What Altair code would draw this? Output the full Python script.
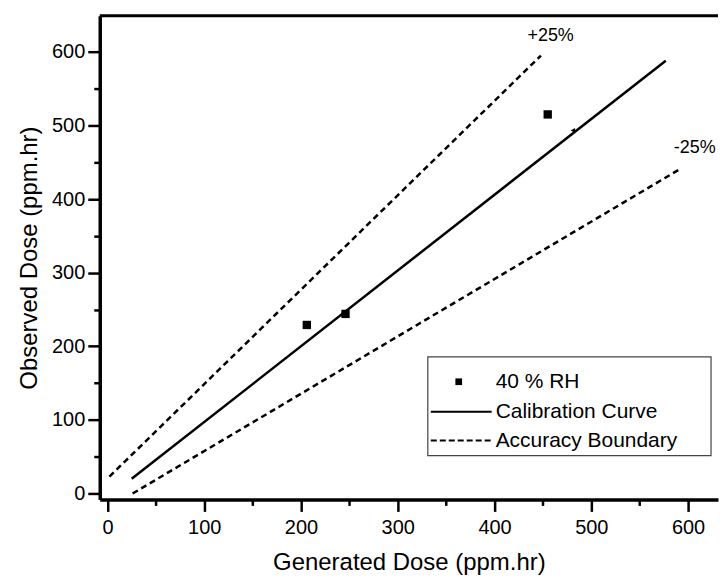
import altair as alt
import pandas as pd

# ---- data ----
cal_x = [25, 577]
cal_y = [20, 588]
upper_x = [2, 448]
upper_y = [23, 595]
lower_x = [26, 592]
lower_y = [0, 441]
pts_x = [206, 246, 455]
pts_y = [229, 244, 515]
hidden_x = [481]
hidden_y = [493]
ann_text = ["+25%", "-25%"]
ann_x = [458, 607]
ann_y = [622, 470]
tick_values = list(range(0, 651, 50))
legend_labels = ["40 % RH", "Calibration Curve", "Accuracy Boundary"]

FONT = "Liberation Sans"
W, H = 620, 485

xs = alt.Scale(domain=[-8, 631], nice=False, zero=False)
ys = alt.Scale(domain=[-8, 649], nice=False, zero=False)

tick_size = {"condition": {"test": "datum.value % 100 !== 0", "value": 6}, "value": 12}
lbl_expr = "datum.value % 100 === 0 ? datum.label : ''"

x_axis = alt.Axis(values=[v for v in tick_values if v <= 600], title="Generated Dose (ppm.hr)",
                  labelExpr=lbl_expr, tickSize=tick_size, grid=False,
                  labelPadding=6, titlePadding=13)
y_axis = alt.Axis(values=tick_values, title="Observed Dose (ppm.hr)",
                  labelExpr=lbl_expr, tickSize=tick_size, grid=False,
                  labelPadding=3, titlePadding=10)

cal_df = pd.DataFrame({"x": cal_x, "y": cal_y})
bound_df = pd.concat([
    pd.DataFrame({"x": upper_x, "y": upper_y, "b": "upper"}),
    pd.DataFrame({"x": lower_x, "y": lower_y, "b": "lower"}),
])
pts_df = pd.DataFrame({"x": pts_x, "y": pts_y})
hid_df = pd.DataFrame({"x": hidden_x, "y": hidden_y})
ann_df = pd.DataFrame({"x": ann_x, "y": ann_y, "t": ann_text})

cal = alt.Chart(cal_df).mark_line(color="black", strokeWidth=2.5).encode(
    x=alt.X("x:Q", scale=xs, axis=x_axis),
    y=alt.Y("y:Q", scale=ys, axis=y_axis),
)
bounds = alt.Chart(bound_df).mark_line(color="black", strokeWidth=2.5, strokeDash=[6, 4]).encode(
    x=alt.X("x:Q", scale=xs), y=alt.Y("y:Q", scale=ys), detail="b:N"
)
pts = alt.Chart(pts_df).mark_point(shape="square", filled=True, color="black", size=70, opacity=1).encode(
    x=alt.X("x:Q", scale=xs), y=alt.Y("y:Q", scale=ys)
)
hid = alt.Chart(hid_df).mark_point(shape="triangle-left", filled=True, color="black", size=25, opacity=1).encode(
    x=alt.X("x:Q", scale=xs), y=alt.Y("y:Q", scale=ys)
)
ann = alt.Chart(ann_df).mark_text(font=FONT, fontSize=18, color="black").encode(
    x=alt.X("x:Q", scale=xs), y=alt.Y("y:Q", scale=ys), text="t:N"
)

one = pd.DataFrame({"k": [0]})
top_border = alt.Chart(one).mark_rule(color="black", strokeWidth=3).encode(
    x=alt.value(0), x2=alt.value(W), y=alt.value(0)
)

# legend (drawn in pixel space, lower right of plot)
leg_box = alt.Chart(one).mark_rect(fill="white", stroke="#444444", strokeWidth=1.2).encode(
    x=alt.value(329), x2=alt.value(613), y=alt.value(342), y2=alt.value(441)
)
leg_sq = alt.Chart(one).mark_point(shape="square", filled=True, color="black", size=45, opacity=1).encode(
    x=alt.value(360), y=alt.value(367)
)
leg_solid = alt.Chart(one).mark_rule(color="black", strokeWidth=2).encode(
    x=alt.value(332), x2=alt.value(393), y=alt.value(397)
)
leg_dash = alt.Chart(one).mark_rule(color="black", strokeWidth=2, strokeDash=[6, 3]).encode(
    x=alt.value(332), x2=alt.value(393), y=alt.value(426)
)
leg_texts = []
for lab, yy in zip(legend_labels, [367, 397, 426]):
    leg_texts.append(
        alt.Chart(pd.DataFrame({"label": [lab]})).mark_text(
            font=FONT, fontSize=21, align="left", baseline="middle", color="black"
        ).encode(text="label:N", x=alt.value(397), y=alt.value(yy))
    )

chart = alt.layer(
    bounds, cal, pts, hid, ann, top_border, leg_box, leg_sq, leg_solid, leg_dash, *leg_texts
).properties(
    width=W, height=H, padding={"left": 9, "top": 5, "right": 0, "bottom": 0},
    background="white",
).configure_view(strokeWidth=0).configure_axis(
    domainColor="black", domainWidth=3.5, tickColor="black", tickWidth=2.5,
    labelFont=FONT, labelFontSize=20, labelColor="black",
    titleFont=FONT, titleFontSize=24, titleFontWeight="normal", titleColor="black",
)

chart.save("out.html", embed_options={"renderer": "svg", "actions": False})
